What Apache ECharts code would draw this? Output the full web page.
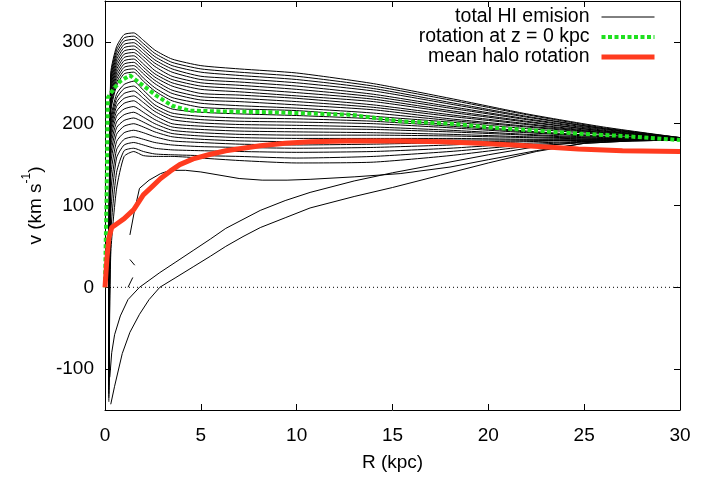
<!DOCTYPE html>
<html>
<head>
<meta charset="utf-8">
<script src="https://cdn.jsdelivr.net/npm/echarts@6/dist/echarts.min.js"></script>
<style>
html, body { margin: 0; padding: 0; background: #fff; }
#chart { width: 719px; height: 477px; }
</style>
</head>
<body>
<div id="chart"></div>
<script>
// Radii (kpc) shared by the family of HI emission curves
const rGrid = [0.2, 0.3, 0.6, 1.0, 1.5, 2.0, 2.6, 3.5, 5, 7, 10, 14, 18, 22, 26, 30];

// Total HI emission curves, top to bottom (km/s at each radius of rGrid)
const hi01 = [-10, 262, 294, 309, 311, 302, 290, 279, 271, 267, 262, 249, 231, 212, 196, 183];
const hi02 = [-15, 258, 290, 305, 307, 298, 286, 275, 267, 263, 258, 246, 229, 211, 195, 183];
const hi03 = [-20, 254, 286, 301, 303, 294, 282, 271, 263, 259, 254, 243, 226, 209, 194, 183];
const hi04 = [-25, 250, 282, 297, 299, 290, 278, 267, 258, 255, 250, 240, 224, 208, 194, 182];
const hi05 = [-30, 246, 278, 293, 295, 286, 274, 263, 254, 251, 246, 236, 221, 206, 193, 182];
const hi06 = [-35, 242, 274, 289, 291, 282, 270, 258, 250, 247, 242, 233, 219, 205, 192, 182];
const hi07 = [-40, 238, 270, 285, 287, 278, 265, 254, 246, 243, 238, 230, 216, 203, 191, 182];
const hi08 = [-45, 234, 266, 281, 283, 273, 261, 250, 242, 239, 234, 227, 214, 202, 191, 182];
const hi09 = [-50, 230, 262, 277, 279, 269, 257, 246, 237, 235, 231, 223, 211, 200, 190, 182];
const hi10 = [-55, 226, 258, 273, 275, 265, 253, 241, 233, 231, 227, 220, 209, 199, 189, 181];
const hi11 = [-60, 222, 254, 269, 271, 261, 249, 237, 229, 227, 223, 217, 206, 197, 189, 181];
const hi12 = [-65, 218, 250, 265, 267, 256, 244, 232, 225, 222, 219, 213, 204, 196, 188, 181];
const hi13 = [-70, 214, 246, 261, 263, 252, 240, 228, 220, 218, 216, 209, 202, 194, 187, 181];
const hi14 = [-75, 205, 236, 248, 252, 241, 228, 218, 214, 212, 210, 206, 199, 191, 185, 181];
const hi15 = [-80, 200, 231, 243, 246, 236, 223, 213, 209, 207, 206, 203, 197, 190, 184, 181];
const hi16 = [-85, 195, 226, 237, 240, 231, 219, 209, 205, 203, 202, 200, 195, 189, 184, 181];
const hi17 = [-90, 190, 221, 231, 234, 226, 215, 205, 201, 199, 198, 196, 192, 187, 183, 180];
const hi18 = [-95, 185, 215, 225, 228, 220, 210, 200, 197, 195, 194, 193, 190, 186, 182, 180];
const hi19 = [-100, 178, 209, 218, 221, 214, 205, 196, 193, 191, 190, 189, 187, 184, 182, 180];
const hi20 = [-105, 170, 202, 211, 214, 208, 200, 192, 189, 187, 186, 186, 185, 183, 181, 180];
const hi21 = [-110, 160, 195, 204, 207, 202, 195, 188, 185, 183, 182, 182, 182, 181, 181, 180];
const hi22 = [-115, 150, 187, 197, 200, 196, 190, 184, 181, 179, 178, 179, 180, 180, 180, 180];
const hi23 = [-120, 135, 178, 189, 192, 189, 184, 179, 177, 175, 174, 175, 177, 179, 180, 180];
const hi24 = [-125, 115, 168, 181, 184, 181, 177, 174, 172, 171, 170, 171, 174, 178, 180, 180];
const hi25 = [-130, 90, 158, 174, 177, 174, 170, 168, 167, 166, 165, 166, 170, 176, 179, 180];
const hi26 = [-135, 65, 140, 167, 170, 166, 163, 162, 161, 160, 158, 160, 166, 174, 179, 180];
const hi27 = [-140, 40, 120, 160, 166, 161, 160, 160, 158, 155, 152, 153, 161, 172, 178, 180];
const hiFamily = [hi01, hi02, hi03, hi04, hi05, hi06, hi07, hi08, hi09, hi10, hi11, hi12, hi13, hi14,
  hi15, hi16, hi17, hi18, hi19, hi20, hi21, hi22, hi23, hi24, hi25, hi26, hi27];

// Curve with the shallow minimum near 8 kpc
const dipR = [1.3, 1.55, 1.8, 2.3, 2.9, 3.4, 4.2, 5, 6, 7, 8.2, 9.5, 10.7, 13, 15.4, 18, 20, 22.5, 25, 27.5, 30];
const dipV = [64, 95, 121, 131, 139, 143, 143, 141, 137, 133, 131, 131, 132, 135, 139, 147, 156, 167, 176, 179, 180];

// The two curves that start strongly negative near the centre
const lowAR = [0.25, 0.35, 0.5, 0.8, 1.2, 1.8, 2.86, 3.7, 4.6, 5.5, 6.3, 7.2, 8.1, 9.4, 10.7, 13, 15, 17.5, 20, 22.5, 25, 27.5, 30];
const lowAV = [-110, -80, -58, -35, -15, 0, 18, 31, 45, 59, 72, 83, 94, 106, 116, 130, 140, 151, 162, 172, 178, 180, 180];
const lowBR = [0.3, 0.5, 0.9, 1.3, 1.8, 2.3, 2.86, 3.7, 4.6, 5.5, 6.3, 7.2, 8.1, 9.4, 10.7, 13, 15, 17.5, 20, 22.5, 25, 27.5, 30];
const lowBV = [-143, -121, -81, -55, -33, -15, 0, 12, 25, 38, 50, 62, 73, 85, 97, 111, 122, 137, 152, 166, 176, 179, 180];

// Short fragments near 1.3 kpc
const fragA = [[1.3, 34], [1.55, 27]];
const fragB = [[1.2, 0], [1.45, 12]];

// Rotation curve in the mid-plane
const midR = [0, 0.08, 0.15, 0.5, 0.8, 1.3, 1.8, 2.7, 3.5, 4.4, 6, 8.6, 10, 12.8, 15.4, 18, 20.4, 24.6, 27, 30];
const midV = [0, 110, 232, 244, 252, 259, 250, 234, 222, 216, 215, 214, 213, 211, 203, 200, 195, 188, 185, 180];

// Mean rotation of the halo gas
const haloR = [0, 0.1, 0.2, 0.35, 0.7, 1.0, 1.5, 2.0, 2.5, 2.9, 3.4, 3.9, 4.6, 5.4, 6.3, 7.2, 8.1, 9.4, 10.7, 12.6, 15.4, 17.5, 19.5, 22, 24.7, 27, 30];
const haloV = [0, 35, 60, 73, 79, 84, 95, 113, 124, 133, 142, 150, 157, 162, 167, 170, 173, 176, 178, 179, 179, 178, 176, 173, 169, 167, 166];

// Axis ticks
const xTicks = [0, 5, 10, 15, 20, 25, 30];
const yTicks = [-100, 0, 100, 200, 300];

const FONT = '"Liberation Sans", Arial, Helvetica, sans-serif';
const NAME_HI = 'total HI emision';
const NAME_MID = 'rotation at z = 0 kpc';
const NAME_HALO = 'mean halo rotation';

const pairs = (xs, ys) => xs.map((x, i) => [x, ys[i]]);

const blackLine = { color: '#000', width: 1 };
const series = [];

hiFamily.forEach(curve => {
  series.push({
    name: NAME_HI, type: 'line', data: pairs(rGrid, curve),
    showSymbol: false, symbol: 'none', smooth: 0.2,
    lineStyle: blackLine, itemStyle: { color: '#000' }, silent: true, z: 2
  });
});
[[dipR, dipV], [lowAR, lowAV], [lowBR, lowBV]].forEach(([xs, ys]) => {
  series.push({
    name: NAME_HI, type: 'line', data: pairs(xs, ys),
    showSymbol: false, symbol: 'none',
    lineStyle: blackLine, itemStyle: { color: '#000' }, silent: true, z: 2
  });
});
[fragA, fragB].forEach(seg => {
  series.push({
    name: NAME_HI, type: 'line', data: seg, showSymbol: false, symbol: 'none',
    lineStyle: blackLine, itemStyle: { color: '#000' }, silent: true, z: 2
  });
});

// dotted zero line
series.push({
  name: 'zero', type: 'line', data: [[xTicks[0], 0], [xTicks[xTicks.length - 1], 0]],
  showSymbol: false, symbol: 'none', silent: true, z: 1,
  lineStyle: { color: '#000', width: 1, type: [1, 3] }
});

series.push({
  name: NAME_MID, type: 'line', data: pairs(midR, midV),
  showSymbol: false, symbol: 'none', silent: true, z: 4,
  lineStyle: { color: '#1fe01f', width: 4, type: [4, 2.5] },
  itemStyle: { color: '#1fe01f' }
});
series.push({
  name: NAME_HALO, type: 'line', data: pairs(haloR, haloV),
  showSymbol: false, symbol: 'none', silent: true, z: 5,
  lineStyle: { color: '#ff3b1f', width: 5, join: 'round' },
  itemStyle: { color: '#ff3b1f' }
});

const chart = echarts.init(document.getElementById('chart'), null, { renderer: 'canvas' });
chart.setOption({
  animation: false,
  backgroundColor: '#fff',
  textStyle: { fontFamily: FONT, color: '#000' },
  grid: { left: 105, top: 1, width: 575, height: 413, containLabel: false },
  legend: {
    data: [NAME_HI, NAME_MID, NAME_HALO],
    orient: 'vertical', right: 62, top: 7, align: 'right',
    itemWidth: 53, itemHeight: 14, itemGap: 0, padding: 0,
    itemStyle: { opacity: 0 },
    lineStyle: { width: 'inherit', type: 'inherit' },
    textStyle: { fontSize: 19.5, color: '#000', fontFamily: FONT, lineHeight: 20, padding: [0, 7, 0, 0] },
    selectedMode: false
  },
  xAxis: [{
    type: 'value', min: xTicks[0], max: xTicks[xTicks.length - 1], interval: 5,
    name: 'R (kpc)', nameLocation: 'middle', nameGap: 43,
    nameTextStyle: { fontSize: 19, color: '#000', fontFamily: FONT },
    axisLine: { show: true, onZero: false, lineStyle: { color: '#000', width: 1 } },
    axisTick: { show: true, inside: true, length: 6, lineStyle: { color: '#000' } },
    axisLabel: { fontSize: 19, color: '#000', margin: 16, fontFamily: FONT },
    splitLine: { show: false }
  }, {
    type: 'value', position: 'top', min: xTicks[0], max: xTicks[xTicks.length - 1], interval: 5,
    axisLine: { show: true, onZero: false, lineStyle: { color: '#000', width: 1 } },
    axisTick: { show: true, inside: true, length: 6, lineStyle: { color: '#000' } },
    axisLabel: { show: false }, splitLine: { show: false }
  }],
  yAxis: [{
    type: 'value', min: -150, max: 350, interval: 50,
    name: '{a|v (km s}{s|-1}{a|)}', nameLocation: 'middle', nameGap: 58, nameRotate: 90,
    nameTextStyle: {
      fontFamily: FONT, color: '#000',
      rich: {
        a: { fontSize: 19, fontFamily: FONT, color: '#000', lineHeight: 24, verticalAlign: 'bottom' },
        s: { fontSize: 12, fontFamily: FONT, color: '#000', lineHeight: 24, verticalAlign: 'top' }
      }
    },
    axisLine: { show: true, onZero: false, lineStyle: { color: '#000', width: 1 } },
    axisTick: { show: true, inside: true, length: 6, lineStyle: { color: '#000' }, customValues: yTicks },
    axisLabel: {
      fontSize: 19, color: '#000', margin: 11, fontFamily: FONT, customValues: yTicks,
      formatter: v => (yTicks.indexOf(v) >= 0 ? String(v) : '')
    },
    splitLine: { show: false }
  }, {
    type: 'value', position: 'right', min: -150, max: 350, interval: 50,
    axisLine: { show: true, onZero: false, lineStyle: { color: '#000', width: 1 } },
    axisTick: { show: true, inside: true, length: 6, lineStyle: { color: '#000' }, customValues: yTicks },
    axisLabel: { show: false }, splitLine: { show: false }
  }],
  series: series
});
</script>
</body>
</html>
